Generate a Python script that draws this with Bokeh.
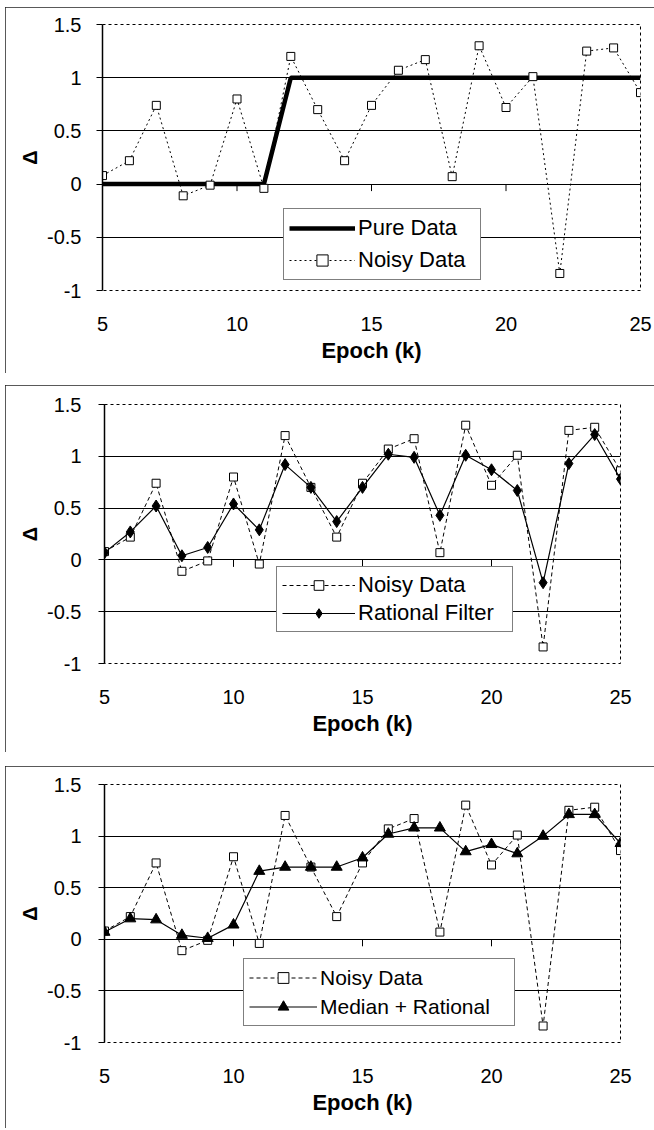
from bokeh.plotting import figure
from bokeh.layouts import column
from bokeh.models import Legend, LegendItem, FixedTicker, NumeralTickFormatter, Range1d
from bokeh.embed import file_html
from bokeh.resources import INLINE

# ---------------- data ----------------
epoch = [5, 6, 7, 8, 9, 10, 11, 12, 13, 14, 15, 16, 17, 18, 19, 20, 21, 22, 23, 24, 25]
pure_data = [0, 0, 0, 0, 0, 0, 0, 1, 1, 1, 1, 1, 1, 1, 1, 1, 1, 1, 1, 1, 1]
noisy_data = [0.08, 0.22, 0.74, -0.11, -0.01, 0.80, -0.04, 1.20, 0.70, 0.22, 0.74,
              1.07, 1.17, 0.07, 1.30, 0.72, 1.01, -0.84, 1.25, 1.28, 0.86]
rational_filter = [0.07, 0.27, 0.52, 0.04, 0.12, 0.54, 0.29, 0.92, 0.70, 0.37, 0.70,
                   1.02, 0.99, 0.43, 1.01, 0.87, 0.67, -0.22, 0.93, 1.21, 0.78]
median_rational = [0.07, 0.20, 0.19, 0.04, 0.01, 0.14, 0.66, 0.70, 0.70, 0.70, 0.79,
                   1.02, 1.08, 1.08, 0.85, 0.92, 0.83, 1.00, 1.21, 1.21, 0.93]

x_ticks = [5, 10, 15, 20, 25]
y_ticks = [-1, -0.5, 0, 0.5, 1, 1.5]
grid_ticks = [-0.5, 0, 0.5, 1]
zero_line_ticks = [10, 15, 20, 25]
x_title = "Epoch (k)"
y_title = "Δ"

FONT = "Liberation Sans"


def make_panel(height, left, right, top, frame_h, label_standoff_y, margin):
    bottom = height - top - frame_h
    p = figure(width=649, height=height, output_backend="svg", toolbar_location=None,
               x_range=Range1d(5, 25), y_range=Range1d(-1, 1.5),
               min_border_left=left, min_border_right=right,
               min_border_top=top, min_border_bottom=bottom,
               background_fill_color="white", border_fill_color="white",
               styles={"outline": "2px solid #222", "outline-offset": "-2px"})
    p.frame_align = False
    p.margin = margin
    p.outline_line_color = "black"
    p.outline_line_width = 1
    p.outline_line_dash = "3 3"

    # y axis
    ya = p.yaxis[0]
    ya.ticker = FixedTicker(ticks=y_ticks)
    ya.formatter = NumeralTickFormatter(format="0.[0]")
    ya.axis_line_color = "black"
    ya.axis_line_width = 1.5
    ya.major_tick_line_color = "black"
    ya.major_tick_out = 6
    ya.major_tick_in = 0
    ya.minor_tick_line_color = None
    ya.major_label_standoff = label_standoff_y
    ya.major_label_text_font = FONT
    ya.major_label_text_font_size = "20px"
    ya.major_label_text_color = "black"
    ya.axis_label = y_title
    ya.axis_label_text_font = FONT
    ya.axis_label_text_font_style = "bold"
    ya.axis_label_text_font_size = "20px"
    ya.axis_label_text_color = "black"
    ya.axis_label_standoff = 3

    # x axis (labels below the plot area)
    xa = p.xaxis[0]
    xa.ticker = FixedTicker(ticks=x_ticks)
    xa.axis_line_color = None
    xa.major_tick_line_color = None
    xa.minor_tick_line_color = None
    xa.major_tick_out = 0
    xa.major_tick_in = 0
    xa.major_label_standoff = 26
    xa.major_label_text_font = FONT
    xa.major_label_text_font_size = "20px"
    xa.major_label_text_color = "black"
    xa.axis_label = x_title
    xa.axis_label_text_font = FONT
    xa.axis_label_text_font_style = "bold"
    xa.axis_label_text_font_size = "22px"
    xa.axis_label_text_color = "black"
    xa.axis_label_standoff = 4

    p.xgrid.grid_line_color = None
    p.ygrid.ticker = FixedTicker(ticks=grid_ticks)
    p.ygrid.grid_line_color = "black"
    p.ygrid.grid_line_width = 1

    # small tick marks hanging below the zero line
    d = 7 * 2.5 / frame_h
    p.segment(x0=zero_line_ticks, y0=[0] * len(zero_line_ticks),
              x1=zero_line_ticks, y1=[-d] * len(zero_line_ticks),
              line_color="black", line_width=1)
    return p


def style_legend(leg, loc, font_size, glyph_w, row_h, pad, spacing, label_w):
    leg.location = loc
    leg.margin = 0
    leg.padding = pad
    leg.spacing = spacing
    leg.glyph_width = glyph_w
    leg.glyph_height = row_h
    leg.label_height = row_h
    leg.label_width = label_w
    leg.label_standoff = 3
    leg.label_text_font = FONT
    leg.label_text_font_size = font_size
    leg.label_text_color = "black"
    leg.border_line_color = "black"
    leg.border_line_width = 1.5
    leg.background_fill_color = "white"
    leg.background_fill_alpha = 1.0


# ---------------- panel 1 ----------------
p1 = make_panel(366, 97, 14, 17, 266, 15, (7, 0, 0, 5))
r_pure = p1.line(epoch, pure_data, line_color="black", line_width=4.5)
r1_nl = p1.line(epoch, noisy_data, line_color="black", line_width=1, line_dash="2 3")
r1_nm = p1.scatter(epoch, noisy_data, marker="square", size=8, line_color="black",
                   fill_color="white", line_width=1)
leg1 = Legend(items=[LegendItem(label="Pure Data", renderers=[r_pure]),
                     LegendItem(label="Noisy Data", renderers=[r1_nl, r1_nm])])
style_legend(leg1, (181, 10), "22px", 66, 28, 5, 4, 117)
p1.add_layout(leg1)

# ---------------- panel 2 ----------------
p2 = make_panel(367, 99, 34, 19, 259, 17, (12, 0, 0, 5))
r2_nl = p2.line(epoch, noisy_data, line_color="black", line_width=1, line_dash="4 3")
r2_nm = p2.scatter(epoch, noisy_data, marker="square", size=8, line_color="black",
                   fill_color="white", line_width=1)
r2_rl = p2.line(epoch, rational_filter, line_color="black", line_width=1.2)
r2_rm = p2.scatter(epoch, rational_filter, marker="diamond", size=12, line_color="black",
                   fill_color="black")
leg2 = Legend(items=[LegendItem(label="Noisy Data", renderers=[r2_nl, r2_nm]),
                     LegendItem(label="Rational Filter", renderers=[r2_rl, r2_rm])])
style_legend(leg2, (172, 31), "22px", 73, 24, 5, 2, 149)
p2.add_layout(leg2)

# ---------------- panel 3 ----------------
p3 = make_panel(362, 99, 34, 18, 258, 17, (14, 0, 0, 5))
r3_nl = p3.line(epoch, noisy_data, line_color="black", line_width=1, line_dash="4 3")
r3_nm = p3.scatter(epoch, noisy_data, marker="square", size=8, line_color="black",
                   fill_color="white", line_width=1)
r3_ml = p3.line(epoch, median_rational, line_color="black", line_width=1.2)
r3_mm = p3.scatter(epoch, median_rational, marker="triangle", size=11, line_color="black",
                   fill_color="black")
leg3 = Legend(items=[LegendItem(label="Noisy Data", renderers=[r3_nl, r3_nm]),
                     LegendItem(label="Median + Rational", renderers=[r3_ml, r3_mm])])
style_legend(leg3, (139, 16), "21px", 68, 27, 5, 2, 189)
p3.add_layout(leg3)

layout = column(p1, p2, p3, spacing=0)

open("out.html", "w").write(file_html(layout, INLINE))
